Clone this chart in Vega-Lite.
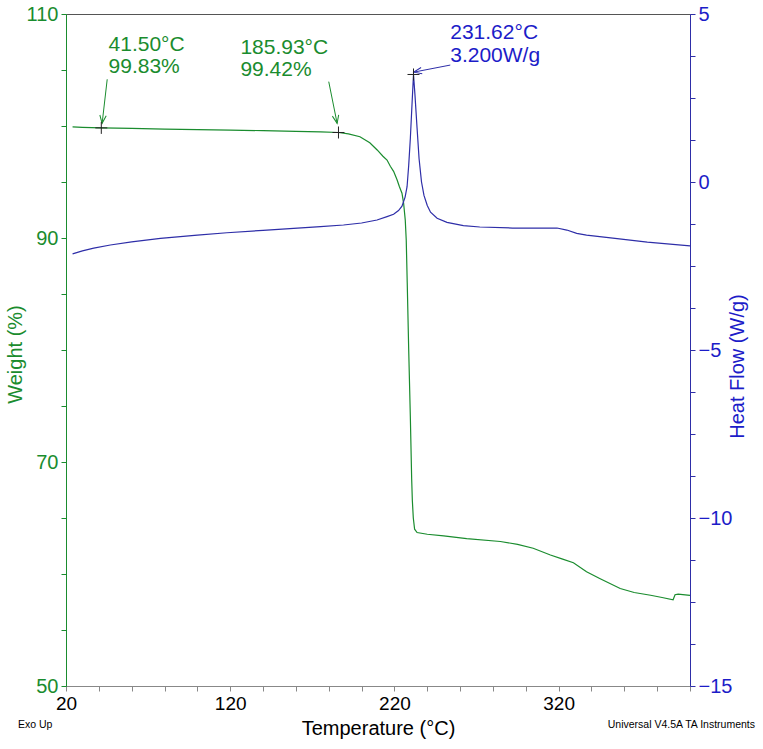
{
  "$schema": "https://vega.github.io/schema/vega-lite/v6.json",
  "width": 624,
  "height": 672,
  "autosize": "none",
  "padding": {"left": 66, "top": 14, "right": 73, "bottom": 63},
  "background": "white",
  "config": {
    "font": "Liberation Sans",
    "view": {"stroke": "#555555", "strokeWidth": 1},
    "axis": {"grid": false, "labelFont": "Liberation Sans", "titleFont": "Liberation Sans", "titleFontWeight": "normal", "labelOverlap": false, "labelFlush": false, "labelBound": false, "tickSize": 5},
    "axisX": {"domainColor": "#888888", "tickColor": "#888888", "labelColor": "#000000", "labelFontSize": 19, "labelPadding": 3, "titleColor": "#000000", "titleFontSize": 20, "titlePadding": 5},
    "axisLeft": {"domainColor": "#1a8c2e", "tickColor": "#1a8c2e", "labelColor": "#1a8c2e", "labelFontSize": 20, "labelPadding": 3, "titleColor": "#1a8c2e", "titleFontSize": 20},
    "axisRight": {"domainColor": "#2e2ea8", "tickColor": "#2e2ea8", "labelColor": "#1c1cc8", "labelFontSize": 20, "labelPadding": 3, "titleColor": "#1c1cc8", "titleFontSize": 20}
  },
  "datasets": {
    "weight": [
      {"T": 24, "w": 99.92}, {"T": 30, "w": 99.88}, {"T": 41.5, "w": 99.83}, {"T": 60, "w": 99.78},
      {"T": 80, "w": 99.72}, {"T": 100, "w": 99.68}, {"T": 120, "w": 99.64}, {"T": 140, "w": 99.58},
      {"T": 160, "w": 99.52}, {"T": 175, "w": 99.47}, {"T": 185.93, "w": 99.42}, {"T": 192, "w": 99.3},
      {"T": 199, "w": 99.04}, {"T": 205, "w": 98.5}, {"T": 209.5, "w": 97.86}, {"T": 213, "w": 97.3},
      {"T": 215.5, "w": 96.96}, {"T": 217.5, "w": 96.4}, {"T": 219.5, "w": 95.95}, {"T": 221.6, "w": 95.2},
      {"T": 223, "w": 94.6}, {"T": 224.6, "w": 94.0}, {"T": 225.6, "w": 93.1}, {"T": 226.6, "w": 91.6},
      {"T": 227.2, "w": 89.8}, {"T": 227.8, "w": 86.0}, {"T": 228.7, "w": 80.0}, {"T": 229.7, "w": 74.0},
      {"T": 230.5, "w": 68.5}, {"T": 230.9, "w": 66.6}, {"T": 231.5, "w": 65.0}, {"T": 232.3, "w": 64.0},
      {"T": 233.8, "w": 63.7}, {"T": 240, "w": 63.55}, {"T": 250, "w": 63.4}, {"T": 264, "w": 63.15},
      {"T": 284.5, "w": 62.9}, {"T": 295, "w": 62.65}, {"T": 304.5, "w": 62.3}, {"T": 315, "w": 61.7},
      {"T": 322, "w": 61.35}, {"T": 329, "w": 61.0}, {"T": 337, "w": 60.2}, {"T": 345, "w": 59.6},
      {"T": 357.5, "w": 58.7}, {"T": 366, "w": 58.35}, {"T": 376, "w": 58.1}, {"T": 383, "w": 57.9},
      {"T": 389.7, "w": 57.7}, {"T": 390.9, "w": 58.15}, {"T": 392.8, "w": 58.2}, {"T": 400, "w": 58.1}
    ],
    "heat": [
      {"T": 24, "h": -2.14}, {"T": 30, "h": -2.05}, {"T": 36.9, "h": -1.97}, {"T": 47, "h": -1.875},
      {"T": 60, "h": -1.78}, {"T": 77.5, "h": -1.68}, {"T": 100, "h": -1.58}, {"T": 118, "h": -1.51},
      {"T": 140, "h": -1.44}, {"T": 158.6, "h": -1.38}, {"T": 175, "h": -1.33}, {"T": 189, "h": -1.28},
      {"T": 200, "h": -1.22}, {"T": 209.4, "h": -1.13}, {"T": 215.5, "h": -1.03}, {"T": 219.5, "h": -0.96},
      {"T": 222.5, "h": -0.85}, {"T": 224.6, "h": -0.72}, {"T": 226.5, "h": -0.45}, {"T": 227.7, "h": -0.14},
      {"T": 228.7, "h": 0.5}, {"T": 229.7, "h": 1.3}, {"T": 230.7, "h": 2.3}, {"T": 231.62, "h": 3.2},
      {"T": 232.5, "h": 2.6}, {"T": 233.8, "h": 1.6}, {"T": 235, "h": 0.7}, {"T": 236.5, "h": 0.0},
      {"T": 238, "h": -0.4}, {"T": 240, "h": -0.7}, {"T": 242, "h": -0.9}, {"T": 246, "h": -1.08},
      {"T": 252, "h": -1.2}, {"T": 262, "h": -1.3}, {"T": 272, "h": -1.34}, {"T": 292, "h": -1.37},
      {"T": 319, "h": -1.37}, {"T": 325, "h": -1.43}, {"T": 331, "h": -1.53}, {"T": 337, "h": -1.58},
      {"T": 353, "h": -1.67}, {"T": 374, "h": -1.79}, {"T": 400, "h": -1.9}
    ],
    "annW": [
      {"id": 1, "T": 41.5, "v": 99.83, "lab": "41.50°C\n99.83%", "labT": 45.9, "labV": 108.18, "arT": 45.1, "arV": 104.17, "tipT": 42.0, "tipV": 100.24},
      {"id": 2, "T": 185.93, "v": 99.42, "lab": "185.93°C\n99.42%", "labT": 126.2, "labV": 107.97, "arT": 180.0, "arV": 103.96, "tipT": 185.1, "tipV": 100.24}
    ],
    "annH": [
      {"id": 3, "T": 231.62, "v": 3.2, "lab": "231.62°C\n3.200W/g", "labT": 254.0, "labV": 4.77, "arT": 254.0, "arV": 3.48, "tipT": 231.8, "tipV": 3.27}
    ]
  },
  "layer": [
    {
      "layer": [
        {
          "data": {"name": "weight"},
          "mark": {"type": "line", "color": "#1a8c2e", "strokeWidth": 1.2},
          "encoding": {
            "x": {"field": "T", "type": "quantitative", "scale": {"domain": [20, 400], "nice": false, "zero": false},
              "axis": {"values": [20, 40, 60, 80, 100, 120, 140, 160, 180, 200, 220, 240, 260, 280, 300, 320, 340, 360, 380, 400], "labelExpr": "(datum.value - 20) % 100 == 0 ? datum.label : ''", "title": "Temperature (°C)"}},
            "y": {"field": "w", "type": "quantitative", "scale": {"domain": [50, 110], "nice": false, "zero": false},
              "axis": {"orient": "left", "values": [50, 55, 60, 65, 70, 75, 80, 85, 90, 95, 100, 105, 110], "labelExpr": "datum.value % 20 == 10 ? datum.label : ''", "title": "Weight (%)", "titleAngle": 270, "titleBaseline": "middle", "titleX": -51, "titleY": 340}}
          }
        },
        {
          "data": {"name": "annW"},
          "mark": {"type": "rule", "color": "#1a8c2e", "strokeWidth": 1},
          "encoding": {
            "x": {"field": "arT", "type": "quantitative",
              "axis": {"values": [20, 40, 60, 80, 100, 120, 140, 160, 180, 200, 220, 240, 260, 280, 300, 320, 340, 360, 380, 400], "labelExpr": "(datum.value - 20) % 100 == 0 ? datum.label : ''", "title": "Temperature (°C)"}},
            "y": {"field": "arV", "type": "quantitative",
              "axis": {"orient": "left", "values": [50, 55, 60, 65, 70, 75, 80, 85, 90, 95, 100, 105, 110], "labelExpr": "datum.value % 20 == 10 ? datum.label : ''", "title": "Weight (%)", "titleAngle": 270, "titleBaseline": "middle", "titleX": -51, "titleY": 340}},
            "x2": {"field": "tipT"},
            "y2": {"field": "tipV"}
          }
        },
        {
          "data": {"name": "annW"},
          "transform": [{"filter": "datum.id == 1"}],
          "mark": {"type": "point", "shape": "M-0.4,-1L0,0L0.4,-1", "size": 256, "filled": false, "stroke": "#1a8c2e", "strokeWidth": 1, "opacity": 1, "angle": 6.5},
          "encoding": {
            "x": {"field": "tipT", "type": "quantitative",
              "axis": {"values": [20, 40, 60, 80, 100, 120, 140, 160, 180, 200, 220, 240, 260, 280, 300, 320, 340, 360, 380, 400], "labelExpr": "(datum.value - 20) % 100 == 0 ? datum.label : ''", "title": "Temperature (°C)"}},
            "y": {"field": "tipV", "type": "quantitative",
              "axis": {"orient": "left", "values": [50, 55, 60, 65, 70, 75, 80, 85, 90, 95, 100, 105, 110], "labelExpr": "datum.value % 20 == 10 ? datum.label : ''", "title": "Weight (%)", "titleAngle": 270, "titleBaseline": "middle", "titleX": -51, "titleY": 340}}
          }
        },
        {
          "data": {"name": "annW"},
          "transform": [{"filter": "datum.id == 2"}],
          "mark": {"type": "point", "shape": "M-0.4,-1L0,0L0.4,-1", "size": 256, "filled": false, "stroke": "#1a8c2e", "strokeWidth": 1, "opacity": 1, "angle": 348.6},
          "encoding": {
            "x": {"field": "tipT", "type": "quantitative",
              "axis": {"values": [20, 40, 60, 80, 100, 120, 140, 160, 180, 200, 220, 240, 260, 280, 300, 320, 340, 360, 380, 400], "labelExpr": "(datum.value - 20) % 100 == 0 ? datum.label : ''", "title": "Temperature (°C)"}},
            "y": {"field": "tipV", "type": "quantitative",
              "axis": {"orient": "left", "values": [50, 55, 60, 65, 70, 75, 80, 85, 90, 95, 100, 105, 110], "labelExpr": "datum.value % 20 == 10 ? datum.label : ''", "title": "Weight (%)", "titleAngle": 270, "titleBaseline": "middle", "titleX": -51, "titleY": 340}}
          }
        },
        {
          "data": {"name": "annW"},
          "mark": {"type": "point", "shape": "M-1,0L1,0M0,-1L0,1", "size": 144, "filled": false, "stroke": "#222222", "strokeWidth": 1, "opacity": 1},
          "encoding": {
            "x": {"field": "T", "type": "quantitative",
              "axis": {"values": [20, 40, 60, 80, 100, 120, 140, 160, 180, 200, 220, 240, 260, 280, 300, 320, 340, 360, 380, 400], "labelExpr": "(datum.value - 20) % 100 == 0 ? datum.label : ''", "title": "Temperature (°C)"}},
            "y": {"field": "v", "type": "quantitative",
              "axis": {"orient": "left", "values": [50, 55, 60, 65, 70, 75, 80, 85, 90, 95, 100, 105, 110], "labelExpr": "datum.value % 20 == 10 ? datum.label : ''", "title": "Weight (%)", "titleAngle": 270, "titleBaseline": "middle", "titleX": -51, "titleY": 340}}
          }
        },
        {
          "data": {"name": "annW"},
          "mark": {"type": "text", "align": "left", "baseline": "top", "fontSize": 21, "lineHeight": 22, "lineBreak": "\n", "color": "#1a8c2e"},
          "encoding": {
            "x": {"field": "labT", "type": "quantitative",
              "axis": {"values": [20, 40, 60, 80, 100, 120, 140, 160, 180, 200, 220, 240, 260, 280, 300, 320, 340, 360, 380, 400], "labelExpr": "(datum.value - 20) % 100 == 0 ? datum.label : ''", "title": "Temperature (°C)"}},
            "y": {"field": "labV", "type": "quantitative",
              "axis": {"orient": "left", "values": [50, 55, 60, 65, 70, 75, 80, 85, 90, 95, 100, 105, 110], "labelExpr": "datum.value % 20 == 10 ? datum.label : ''", "title": "Weight (%)", "titleAngle": 270, "titleBaseline": "middle", "titleX": -51, "titleY": 340}},
            "text": {"field": "lab"}
          }
        },
        {
          "data": {"values": [{"note": "Exo Up"}]},
          "mark": {"type": "text", "align": "left", "baseline": "middle", "fontSize": 10.5, "color": "#000000", "dx": -48, "dy": 39},
          "encoding": {
            "x": {"datum": 20, "type": "quantitative",
              "axis": {"values": [20, 40, 60, 80, 100, 120, 140, 160, 180, 200, 220, 240, 260, 280, 300, 320, 340, 360, 380, 400], "labelExpr": "(datum.value - 20) % 100 == 0 ? datum.label : ''", "title": "Temperature (°C)"}},
            "y": {"datum": 50, "type": "quantitative",
              "axis": {"orient": "left", "values": [50, 55, 60, 65, 70, 75, 80, 85, 90, 95, 100, 105, 110], "labelExpr": "datum.value % 20 == 10 ? datum.label : ''", "title": "Weight (%)", "titleAngle": 270, "titleBaseline": "middle", "titleX": -51, "titleY": 340}},
            "text": {"field": "note"}
          }
        },
        {
          "data": {"values": [{"note": "Universal V4.5A TA Instruments"}]},
          "mark": {"type": "text", "align": "right", "baseline": "middle", "fontSize": 10.5, "color": "#000000", "dx": 65, "dy": 39},
          "encoding": {
            "x": {"datum": 400, "type": "quantitative",
              "axis": {"values": [20, 40, 60, 80, 100, 120, 140, 160, 180, 200, 220, 240, 260, 280, 300, 320, 340, 360, 380, 400], "labelExpr": "(datum.value - 20) % 100 == 0 ? datum.label : ''", "title": "Temperature (°C)"}},
            "y": {"datum": 50, "type": "quantitative",
              "axis": {"orient": "left", "values": [50, 55, 60, 65, 70, 75, 80, 85, 90, 95, 100, 105, 110], "labelExpr": "datum.value % 20 == 10 ? datum.label : ''", "title": "Weight (%)", "titleAngle": 270, "titleBaseline": "middle", "titleX": -51, "titleY": 340}},
            "text": {"field": "note"}
          }
        }
      ]
    },
    {
      "layer": [
        {
          "data": {"name": "heat"},
          "mark": {"type": "line", "color": "#2e2ea8", "strokeWidth": 1.2},
          "encoding": {
            "x": {"field": "T", "type": "quantitative",
              "axis": {"values": [20, 40, 60, 80, 100, 120, 140, 160, 180, 200, 220, 240, 260, 280, 300, 320, 340, 360, 380, 400], "labelExpr": "(datum.value - 20) % 100 == 0 ? datum.label : ''", "title": "Temperature (°C)"}},
            "y": {"field": "h", "type": "quantitative", "scale": {"domain": [-15, 5], "nice": false, "zero": false},
              "axis": {"orient": "right", "values": [-15, -13.75, -12.5, -11.25, -10, -8.75, -7.5, -6.25, -5, -3.75, -2.5, -1.25, 0, 1.25, 2.5, 3.75, 5], "labelExpr": "datum.value % 5 == 0 ? datum.label : ''", "title": "Heat Flow (W/g)", "titleAngle": 270, "titleBaseline": "middle", "titleX": 47, "titleY": 352}}
          }
        },
        {
          "data": {"name": "annH"},
          "mark": {"type": "rule", "color": "#2e2ea8", "strokeWidth": 1},
          "encoding": {
            "x": {"field": "arT", "type": "quantitative",
              "axis": {"values": [20, 40, 60, 80, 100, 120, 140, 160, 180, 200, 220, 240, 260, 280, 300, 320, 340, 360, 380, 400], "labelExpr": "(datum.value - 20) % 100 == 0 ? datum.label : ''", "title": "Temperature (°C)"}},
            "y": {"field": "arV", "type": "quantitative",
              "axis": {"orient": "right", "values": [-15, -13.75, -12.5, -11.25, -10, -8.75, -7.5, -6.25, -5, -3.75, -2.5, -1.25, 0, 1.25, 2.5, 3.75, 5], "labelExpr": "datum.value % 5 == 0 ? datum.label : ''", "title": "Heat Flow (W/g)", "titleAngle": 270, "titleBaseline": "middle", "titleX": 47, "titleY": 352}},
            "x2": {"field": "tipT"},
            "y2": {"field": "tipV"}
          }
        },
        {
          "data": {"name": "annH"},
          "mark": {"type": "point", "shape": "M-0.4,-1L0,0L0.4,-1", "size": 256, "filled": false, "stroke": "#2e2ea8", "strokeWidth": 1, "opacity": 1, "angle": 79.6},
          "encoding": {
            "x": {"field": "tipT", "type": "quantitative",
              "axis": {"values": [20, 40, 60, 80, 100, 120, 140, 160, 180, 200, 220, 240, 260, 280, 300, 320, 340, 360, 380, 400], "labelExpr": "(datum.value - 20) % 100 == 0 ? datum.label : ''", "title": "Temperature (°C)"}},
            "y": {"field": "tipV", "type": "quantitative",
              "axis": {"orient": "right", "values": [-15, -13.75, -12.5, -11.25, -10, -8.75, -7.5, -6.25, -5, -3.75, -2.5, -1.25, 0, 1.25, 2.5, 3.75, 5], "labelExpr": "datum.value % 5 == 0 ? datum.label : ''", "title": "Heat Flow (W/g)", "titleAngle": 270, "titleBaseline": "middle", "titleX": 47, "titleY": 352}}
          }
        },
        {
          "data": {"name": "annH"},
          "mark": {"type": "point", "shape": "M-1,0L1,0M0,-1L0,1", "size": 144, "filled": false, "stroke": "#222222", "strokeWidth": 1, "opacity": 1},
          "encoding": {
            "x": {"field": "T", "type": "quantitative",
              "axis": {"values": [20, 40, 60, 80, 100, 120, 140, 160, 180, 200, 220, 240, 260, 280, 300, 320, 340, 360, 380, 400], "labelExpr": "(datum.value - 20) % 100 == 0 ? datum.label : ''", "title": "Temperature (°C)"}},
            "y": {"field": "v", "type": "quantitative",
              "axis": {"orient": "right", "values": [-15, -13.75, -12.5, -11.25, -10, -8.75, -7.5, -6.25, -5, -3.75, -2.5, -1.25, 0, 1.25, 2.5, 3.75, 5], "labelExpr": "datum.value % 5 == 0 ? datum.label : ''", "title": "Heat Flow (W/g)", "titleAngle": 270, "titleBaseline": "middle", "titleX": 47, "titleY": 352}}
          }
        },
        {
          "data": {"name": "annH"},
          "mark": {"type": "text", "align": "left", "baseline": "top", "fontSize": 21, "lineHeight": 23, "lineBreak": "\n", "color": "#1c1cc8"},
          "encoding": {
            "x": {"field": "labT", "type": "quantitative",
              "axis": {"values": [20, 40, 60, 80, 100, 120, 140, 160, 180, 200, 220, 240, 260, 280, 300, 320, 340, 360, 380, 400], "labelExpr": "(datum.value - 20) % 100 == 0 ? datum.label : ''", "title": "Temperature (°C)"}},
            "y": {"field": "labV", "type": "quantitative",
              "axis": {"orient": "right", "values": [-15, -13.75, -12.5, -11.25, -10, -8.75, -7.5, -6.25, -5, -3.75, -2.5, -1.25, 0, 1.25, 2.5, 3.75, 5], "labelExpr": "datum.value % 5 == 0 ? datum.label : ''", "title": "Heat Flow (W/g)", "titleAngle": 270, "titleBaseline": "middle", "titleX": 47, "titleY": 352}},
            "text": {"field": "lab"}
          }
        }
      ]
    }
  ],
  "resolve": {"scale": {"y": "independent"}, "axis": {"y": "independent"}}
}
